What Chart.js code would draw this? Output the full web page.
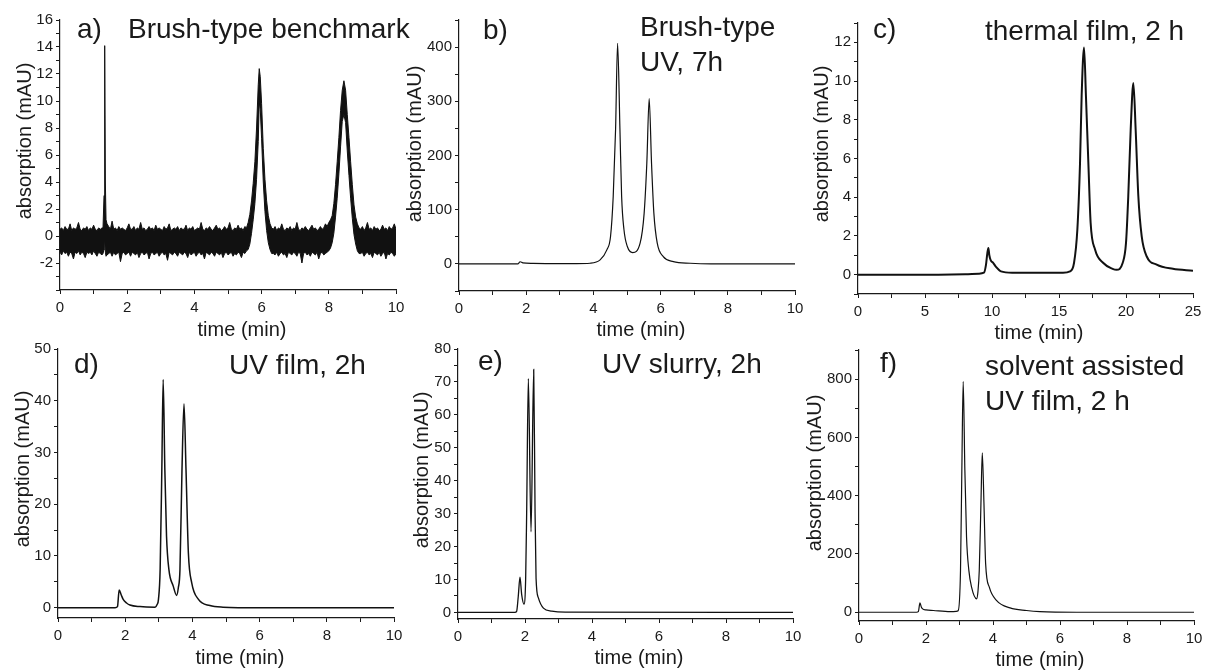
<!DOCTYPE html>
<html>
<head>
<meta charset="utf-8">
<script src="https://cdn.jsdelivr.net/npm/chart.js@4.4.1/dist/chart.umd.min.js"></script>
<style>
  html, body { margin: 0; padding: 0; background: #fff; }
  #wrap { position: relative; width: 1208px; height: 671px; overflow: hidden; }
  #wrap canvas { position: absolute; left: 0; top: 0; }
</style>
</head>
<body>
<div id="wrap">
  <canvas id="pa" width="1208" height="671"></canvas>
  <canvas id="pb" width="1208" height="671"></canvas>
  <canvas id="pc" width="1208" height="671"></canvas>
  <canvas id="pd" width="1208" height="671"></canvas>
  <canvas id="pe" width="1208" height="671"></canvas>
  <canvas id="pf" width="1208" height="671"></canvas>
</div>
<script>
// a) noisy trace, kept as upper / lower edge of the noise band
const timeA = [0,0.05,0.1,0.15,0.2,0.25,0.3,0.35,0.4,0.45,0.5,0.55,0.6,0.65,0.7,0.75,0.8,0.85,0.9,0.95,1.0,1.05,1.1,1.15,1.2,1.25,
  1.28,1.31,1.33,1.35,1.37,1.4,
  1.45,1.5,1.55,1.6,1.65,1.7,1.75,1.8,1.85,1.9,
  1.95,2.0,2.05,2.1,2.15,2.2,2.25,2.3,2.35,2.4,
  2.45,2.5,2.55,2.6,2.65,2.7,2.75,2.8,2.85,2.9,
  2.95,3.0,3.05,3.1,3.15,3.2,3.25,3.3,3.35,3.4,
  3.45,3.5,3.55,3.6,3.65,3.7,3.75,3.8,3.85,3.9,
  3.95,4.0,4.05,4.1,4.15,4.2,4.25,4.3,4.35,4.4,
  4.45,4.5,4.55,4.6,4.65,4.7,4.75,4.8,4.85,4.9,
  4.95,5.0,5.05,5.1,5.15,5.2,5.25,5.3,5.35,5.4,
  5.45,5.5,5.55,
  5.6,5.65,5.7,5.75,5.8,5.85,5.9,5.93,5.96,6.0,6.05,6.1,6.15,6.2,6.25,6.3,
  6.35,6.4,6.45,6.5,6.55,6.6,6.65,6.7,6.75,6.8,
  6.85,6.9,6.95,7.0,7.05,7.1,7.15,7.2,7.25,7.3,
  7.35,7.4,7.45,7.5,7.55,7.6,7.65,7.7,7.75,7.8,
  7.85,7.9,7.95,
  8.0,8.05,8.1,8.15,8.2,8.25,8.3,8.35,8.4,8.45,8.5,8.55,8.6,8.65,8.7,8.75,8.8,8.85,8.9,
  8.95,9.0,9.05,9.1,9.15,9.2,9.25,9.3,9.35,9.4,
  9.45,9.5,9.55,9.6,9.65,9.7,9.75,9.8,9.85,9.9,
  9.95,10.0];
const upperA = [0.5,0.6,0.4,0.7,0.5,0.5,0.9,0.4,0.6,0.5,0.6,1.0,0.5,0.4,0.6,0.5,0.7,0.4,0.6,0.5,0.8,0.5,0.4,0.6,0.5,0.6,
  0.6,3.0,14.1,4.0,1.2,0.9,
  0.7,0.5,1.1,0.5,0.6,0.4,0.7,0.5,0.6,0.5,
  0.4,0.6,0.9,0.5,0.5,0.7,0.4,0.6,0.5,1.0,
  0.5,0.6,0.4,0.5,0.7,0.5,0.6,0.4,0.8,0.5,
  0.6,0.5,0.4,0.7,0.5,0.6,0.9,0.4,0.5,0.6,
  0.5,0.7,0.4,0.6,0.5,0.5,0.8,0.4,0.6,0.5,
  0.7,0.4,0.5,0.6,0.5,1.0,0.5,0.4,0.6,0.5,
  0.7,0.5,0.4,0.6,0.8,0.5,0.6,0.4,0.5,0.7,
  0.5,0.6,1.0,0.5,0.4,0.6,0.5,0.8,0.5,0.6,
  0.4,0.7,0.6,
  1.0,1.6,2.6,3.9,5.5,8.0,11.2,12.4,11.8,9.8,6.5,4.2,2.6,1.5,0.9,0.6,
  0.5,0.7,0.4,0.6,0.5,0.9,0.5,0.4,0.6,0.5,
  0.7,0.4,0.6,0.5,1.0,0.5,0.4,0.6,0.5,0.7,
  0.5,0.4,0.6,0.8,0.5,0.6,0.4,0.5,0.7,0.5,
  0.6,0.9,0.7,
  1.0,1.2,1.5,2.4,3.8,5.5,7.3,9.3,10.8,11.5,10.8,9.0,7.3,5.5,3.8,2.3,1.4,0.9,0.6,
  0.5,0.7,0.4,0.6,1.0,0.5,0.6,0.4,0.7,0.5,
  0.6,0.4,0.5,0.8,0.5,0.6,0.4,0.7,0.5,0.6,
  0.9,0.5];
const lowerA = [-1.2,-1.4,-1.1,-1.3,-1.2,-1.5,-1.2,-1.3,-1.7,-1.2,-1.3,-1.1,-1.4,-1.2,-1.3,-1.6,-1.2,-1.3,-1.2,-1.4,-1.1,-1.3,-1.5,-1.2,-1.3,-1.4,
  -1.3,-1.0,-0.3,-1.2,-1.5,-1.4,
  -1.3,-1.2,-1.5,-1.2,-1.4,-1.3,-1.2,-1.9,-1.3,-1.2,
  -1.4,-1.3,-1.2,-1.5,-1.2,-1.3,-1.4,-1.2,-1.6,-1.3,
  -1.2,-1.4,-1.3,-1.2,-1.7,-1.3,-1.2,-1.4,-1.3,-1.2,
  -1.5,-1.3,-1.2,-1.4,-1.3,-1.8,-1.2,-1.3,-1.4,-1.2,
  -1.3,-1.5,-1.2,-1.3,-1.4,-1.2,-1.3,-1.6,-1.2,-1.4,
  -1.3,-1.2,-1.5,-1.3,-1.2,-1.4,-1.3,-1.7,-1.2,-1.3,
  -1.4,-1.2,-1.3,-1.5,-1.2,-1.3,-1.4,-1.2,-1.6,-1.3,
  -1.2,-1.4,-1.3,-1.2,-1.5,-1.3,-1.4,-1.2,-1.3,-1.6,
  -1.2,-1.3,-1.1,
  -1.0,-0.6,0.2,1.2,2.4,4.2,7.0,9.9,9.4,7.2,4.0,1.8,0.4,-0.5,-1.0,-1.3,
  -1.3,-1.4,-1.2,-1.5,-1.3,-1.2,-1.4,-1.3,-1.6,-1.2,
  -1.3,-1.4,-1.2,-1.3,-1.5,-1.2,-1.3,-2.0,-1.3,-1.2,
  -1.4,-1.3,-1.5,-1.2,-1.3,-1.4,-1.2,-1.7,-1.3,-1.2,
  -1.4,-1.3,-1.2,
  -1.1,-0.9,-0.5,0.2,1.4,2.8,4.6,6.6,8.5,9.0,8.4,6.3,4.5,2.8,1.3,0.1,-0.6,-1.1,-1.3,
  -1.3,-1.2,-1.5,-1.3,-1.2,-1.4,-1.3,-1.6,-1.2,-1.3,
  -1.4,-1.2,-1.5,-1.3,-1.2,-1.7,-1.3,-1.4,-1.2,-1.3,
  -1.5,-1.3];

// b) Brush-type UV, 7h
const timeB = [0,1.0,1.75,1.82,1.9,2.2,3.0,3.5,3.9,4.2,4.4,4.51,4.59,4.66,4.72,4.79,4.84,4.91,5.01,5.17,5.39,5.51,5.59,5.66,5.73,5.80,5.90,6.08,6.38,6.88,7.5,10];
const absB  = [0,0,0,4,2,1,0.5,0.5,1.2,7.4,25.9,50.6,124.7,248,407,248,124.7,63,32,20.9,38.3,93.2,186,305,186,93.2,38.3,13.6,4.3,1.2,0,0];

// c) thermal film, 2 h
const timeC = [0,3,6,8,9.0,9.4,9.55,9.65,9.73,9.8,9.9,10.1,10.3,10.67,11.5,13,15.3,15.82,16.12,16.37,16.57,16.69,16.87,17.01,17.19,17.36,17.69,18.31,19.0,19.3,19.75,20.0,20.17,20.35,20.55,20.72,20.92,21.17,21.54,22.29,23.5,25];
const absC  = [0,0,0,0.02,0.05,0.1,0.5,1.1,1.38,1.0,0.75,0.6,0.4,0.17,0.1,0.1,0.1,0.17,0.6,2.33,5.79,9.24,11.74,9.24,5.79,2.68,1.3,0.6,0.3,0.25,0.6,1.64,4.06,7.5,9.9,7.5,4.06,1.99,0.95,0.52,0.3,0.2];

// d) UV film, 2h
const timeD = [0,1.7,1.77,1.82,1.88,1.94,2.04,2.14,2.44,2.89,2.95,2.99,3.04,3.09,3.13,3.18,3.23,3.30,3.43,3.53,3.58,3.63,3.69,3.75,3.81,3.88,3.98,4.18,4.52,4.91,6,10];
const absD  = [0,0,0.2,3.4,2.5,1.6,0.9,0.5,0.2,0.1,0.6,1.6,7.4,26.6,44.1,26.6,13.8,7.4,4.16,2.37,3.8,7.4,26.6,39.4,26.6,10.6,4.8,1.6,0.4,0.1,0,0];

// e) UV slurry, 2h
const timeE = [0,1.7,1.75,1.80,1.85,1.90,1.97,2.02,2.05,2.10,2.18,2.26,2.30,2.33,2.40,2.55,2.80,3.2,10];
const absE  = [0,0,0.3,5,10.7,5.5,2.5,10.4,30.6,71,24.5,73.8,30.6,10.4,4.4,1.3,0.4,0.1,0];

// f) solvent assisted UV film, 2 h
const timeF = [0,1.72,1.77,1.82,1.86,1.90,2.0,2.22,2.72,2.9,2.96,3.03,3.07,3.11,3.16,3.21,3.28,3.36,3.51,3.55,3.59,3.64,3.68,3.73,3.78,3.89,4.11,4.51,5.0,5.4,6.5,10];
const absF  = [0,0,2,32,18,11.5,8,6,2,3,5,143,488,792,488,258,143,86,46,70,143,373,547,373,167,86,40,15,6,2,0,0];

// tick labels
const xTicks10 = [0,2,4,6,8,10];
const xTicks25 = [0,5,10,15,20,25];
const yTicksA = [-2,0,2,4,6,8,10,12,14,16];
const yTicksB = [0,100,200,300,400];
const yTicksC = [0,2,4,6,8,10,12];
const yTicksD = [0,10,20,30,40,50];
const yTicksE = [0,10,20,30,40,50,60,70,80];
const yTicksF = [0,200,400,600,800];

const FONT = "'Liberation Sans', Arial, Helvetica, sans-serif";
const INK = '#1a1a1a';
const Y_W = 45, X_H = 30;

const textPlugin = {
  id: 'panelText',
  afterDraw(chart, args, opts) {
    const ctx = chart.ctx;
    (opts.items || []).forEach(it => {
      ctx.save();
      ctx.fillStyle = INK;
      ctx.font = it.size + 'px ' + FONT;
      ctx.textAlign = it.align || 'left';
      ctx.textBaseline = it.base || 'alphabetic';
      ctx.translate(it.x, it.y);
      if (it.rot) ctx.rotate(it.rot);
      ctx.fillText(it.text, 0, 0);
      ctx.restore();
    });
  }
};

function axis(min, max, step, majors, horizontal) {
  return {
    type: 'linear', min: min, max: max,
    afterBuildTicks: s => {
      const t = [];
      for (let v = Math.ceil(min / step - 1e-9) * step; v <= max + 1e-9; v += step) t.push({ value: +v.toFixed(4) });
      s.ticks = t;
    },
    afterFit: s => { if (horizontal) s.height = X_H; else s.width = Y_W; },
    ticks: {
      autoSkip: false, maxRotation: 0, padding: horizontal ? 5 : 3, color: INK,
      font: { family: FONT, size: 15 },
      callback: v => majors.some(m => Math.abs(m - v) < 1e-6) ? String(v) : ''
    },
    grid: { drawOnChartArea: false, drawTicks: true, tickLength: 4, color: INK, lineWidth: 1 },
    border: { display: true, color: INK, width: 1.2 }
  };
}

function trace(times, values, width) {
  return {
    data: times.map((t, i) => ({ x: t, y: values[i] })),
    borderColor: '#111', borderWidth: width, pointRadius: 0, fill: false,
    cubicInterpolationMode: 'monotone'
  };
}

function yTitle(x, y) { return { text: 'absorption (mAU)', x: x, y: y, size: 20, align: 'center', base: 'middle', rot: -Math.PI / 2 }; }
function xTitle(x, y) { return { text: 'time (min)', x: x, y: y, size: 20, align: 'center', base: 'middle' }; }
function head(text, x, y) { return { text: text, x: x, y: y, size: 28 }; }

const panels = [
  { id: 'pa', area: [60, 20, 396, 290], x: [0, 10, 1, xTicks10], y: [-4, 16, 1, yTicksA],
    datasets: [
      { data: timeA.map((t, i) => ({ x: t, y: upperA[i] })), borderColor: '#111', backgroundColor: '#111', borderWidth: 1, pointRadius: 0, tension: 0, fill: '+1' },
      { data: timeA.map((t, i) => ({ x: t, y: lowerA[i] })), borderColor: '#111', borderWidth: 1, pointRadius: 0, tension: 0, fill: false }
    ],
    texts: [head('a)', 77, 38), head('Brush-type benchmark', 128, 38), yTitle(25, 141), xTitle(242, 330)] },
  { id: 'pb', area: [459, 20, 795, 291], x: [0, 10, 1, xTicks10], y: [-50, 450, 50, yTicksB],
    datasets: [trace(timeB, absB, 1.2)],
    texts: [head('b)', 483, 39), head('Brush-type', 640, 36), head('UV, 7h', 640, 71), yTitle(415, 144), xTitle(641, 330)] },
  { id: 'pc', area: [858, 23, 1193, 294], x: [0, 25, 2.5, xTicks25], y: [-1, 13, 1, yTicksC],
    datasets: [trace(timeC, absC, 2)],
    texts: [head('c)', 873, 38), head('thermal film, 2 h', 985, 40), yTitle(822, 144), xTitle(1039, 333)] },
  { id: 'pd', area: [58, 349, 394, 618], x: [0, 10, 1, xTicks10], y: [-2, 50, 5, yTicksD],
    datasets: [trace(timeD, absD, 1.5)],
    texts: [head('d)', 74, 373), head('UV film, 2h', 229, 374), yTitle(23, 469), xTitle(240, 658)] },
  { id: 'pe', area: [458, 349, 793, 619], x: [0, 10, 1, xTicks10], y: [-2, 80, 5, yTicksE],
    datasets: [trace(timeE, absE, 1.3)],
    texts: [head('e)', 478, 370), head('UV slurry, 2h', 602, 373), yTitle(422, 470), xTitle(639, 658)] },
  { id: 'pf', area: [859, 350, 1194, 621], x: [0, 10, 1, xTicks10], y: [-30, 900, 100, yTicksF],
    datasets: [trace(timeF, absF, 1.2)],
    texts: [head('f)', 880, 372), head('solvent assisted', 985, 375), head('UV film, 2 h', 985, 410), yTitle(815, 473), xTitle(1040, 660)] }
];

panels.forEach(p => {
  const [L, T, R, B] = p.area;
  new Chart(document.getElementById(p.id), {
    type: 'line',
    data: { datasets: p.datasets },
    options: {
      responsive: false, animation: false, events: [],
      layout: { padding: { left: L - Y_W, top: T, right: 1208 - R, bottom: 671 - B - X_H } },
      scales: {
        x: axis(p.x[0], p.x[1], p.x[2], p.x[3], true),
        y: axis(p.y[0], p.y[1], p.y[2], p.y[3], false)
      },
      plugins: { legend: { display: false }, tooltip: { enabled: false }, panelText: { items: p.texts } }
    },
    plugins: [textPlugin]
  });
});
</script>
</body>
</html>
